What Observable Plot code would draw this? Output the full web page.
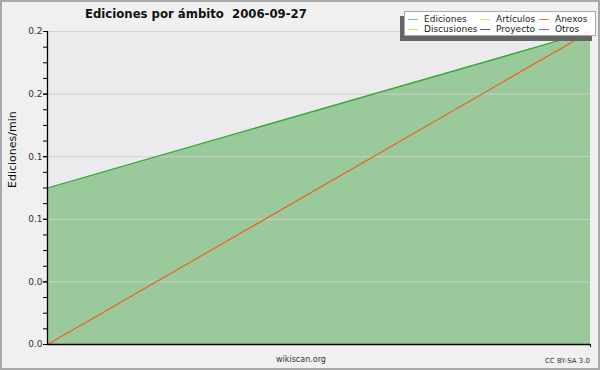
<!DOCTYPE html>
<html>
<head>
<meta charset="utf-8">
<script src="https://cdn.jsdelivr.net/npm/d3@7"></script>
<script src="https://cdn.jsdelivr.net/npm/@observablehq/plot@0.6"></script>
<style>
  html, body { margin: 0; padding: 0; background: #f0f0f0; }
  #wrap { position: relative; width: 600px; height: 370px; background: #f0f0f0; font-family: "DejaVu Sans", sans-serif; overflow: hidden; }
  #chart svg { display: block; }
  #title { position: absolute; left: 85px; top: 7px; font-size: 11.7px; font-weight: bold; color: #111; white-space: pre; }
  #legend { position: absolute; left: 404px; top: 11px; width: 192px; height: 25px; background: rgba(255,255,255,0.9); border: 1px solid #aaa; box-shadow: -4px 5px 0 #666; box-sizing: border-box; font-size: 9px; color: #222; }
  .li { position: absolute; white-space: nowrap; line-height: 10px; height: 10px; }
  .li span.sw { position: absolute; left: 0; top: 5px; width: 10px; height: 0; border-top: 1px solid; }
  .li span.tx { position: absolute; left: 16px; top: 0; }
  #foot1 { position: absolute; left: 0; width: 602px; text-align: center; top: 355px; font-size: 8px; color: #333; }
  #foot2 { position: absolute; right: 10px; top: 357px; font-size: 7px; color: #333; }
  #border { position: absolute; left: 0; top: 0; width: 600px; height: 370px; border: 2px solid #a8a8a8; box-sizing: border-box; pointer-events: none; }
</style>
</head>
<body>
<div id="wrap">
  <div id="chart"></div>
  <div id="title"></div>
  <div id="legend"></div>
  <div id="foot1"></div>
  <div id="foot2"></div>
  <div id="border"></div>
</div>
<script>
// ---- data ----
const titleText = "Ediciones por ámbito  2006-09-27";
const yLabel = "Ediciones/min";
const hours = [0, 23];
const ediciones = [0.125, 0.25];
const anexos = [0, 0.25];
const yTicks = [0, 0.05, 0.1, 0.15, 0.2, 0.25];
const yTickLabels = ["0.0", "0.0", "0.1", "0.1", "0.2", "0.2"];
const legendNames = ["Ediciones", "Artículos", "Anexos", "Discusiones", "Proyecto", "Otros"];
const legendColors = ["#77cc77", "#ccee55", "#ff7733", "#ffcc33", "#555555", "#9955ee"];
const footLeft = "wikiscan.org";
const footRight = "CC BY-SA 3.0";

const rowsE = hours.map((h, i) => ({h, v: ediciones[i]}));
const rowsA = hours.map((h, i) => ({h, v: anexos[i]}));
const minorTicks = d3.range(0, 0.2501, 0.0125);

const chart = Plot.plot({
  width: 600,
  height: 370,
  marginLeft: 47,
  marginRight: 10,
  marginTop: 31,
  marginBottom: 26,
  style: {background: "transparent", fontFamily: "DejaVu Sans, sans-serif"},
  x: {domain: [hours[0], hours[hours.length - 1]]},
  y: {domain: [0, 0.25]},
  marks: [
    Plot.frame({fill: "#ebebee", stroke: "none"}),
    Plot.areaY(rowsE, {x: "h", y: "v", fill: "#4aaa4a", fillOpacity: 0.5}),
    Plot.gridY(yTicks, {stroke: "#d0d0d0", strokeOpacity: 0.9}),
    Plot.lineY(rowsE, {x: "h", y: "v", stroke: "#35aa35", strokeWidth: 1.3}),
    Plot.lineY(rowsA, {x: "h", y: "v", stroke: "#f06020", strokeWidth: 1.2}),
    Plot.axisY(minorTicks, {tickSize: 4, tickFormat: () => "", stroke: "#000", label: null}),
    Plot.axisY(yTicks, {tickSize: 4, tickPadding: 1, tickFormat: (d, i) => yTickLabels[i], fontSize: 9, fill: "#333", stroke: "#000", label: null}),
    Plot.ruleX([hours[0]], {stroke: "#000", strokeWidth: 1.3}),
    Plot.ruleY([0], {stroke: "#000", strokeWidth: 1.3}),
    Plot.axisX([hours[hours.length - 1]], {tickSize: 3, tickFormat: () => "", stroke: "#000", label: null}),
    Plot.text([yLabel], {frameAnchor: "left", dx: -35, rotate: -90, fontSize: 11, fill: "#111"})
  ]
});
document.getElementById("chart").appendChild(chart);

document.getElementById("title").textContent = titleText;
document.getElementById("foot1").textContent = footLeft;
document.getElementById("foot2").textContent = footRight;

const leg = document.getElementById("legend");
const colX = [3, 75, 134];
const rowY = [2, 12];
legendNames.forEach((name, i) => {
  const d = document.createElement("div");
  d.className = "li";
  d.style.left = colX[i % 3] + "px";
  d.style.top = rowY[Math.floor(i / 3)] + "px";
  const sw = document.createElement("span");
  sw.className = "sw";
  sw.style.borderColor = legendColors[i];
  const tx = document.createElement("span");
  tx.className = "tx";
  tx.textContent = name;
  d.appendChild(sw);
  d.appendChild(tx);
  leg.appendChild(d);
});
</script>
</body>
</html>
